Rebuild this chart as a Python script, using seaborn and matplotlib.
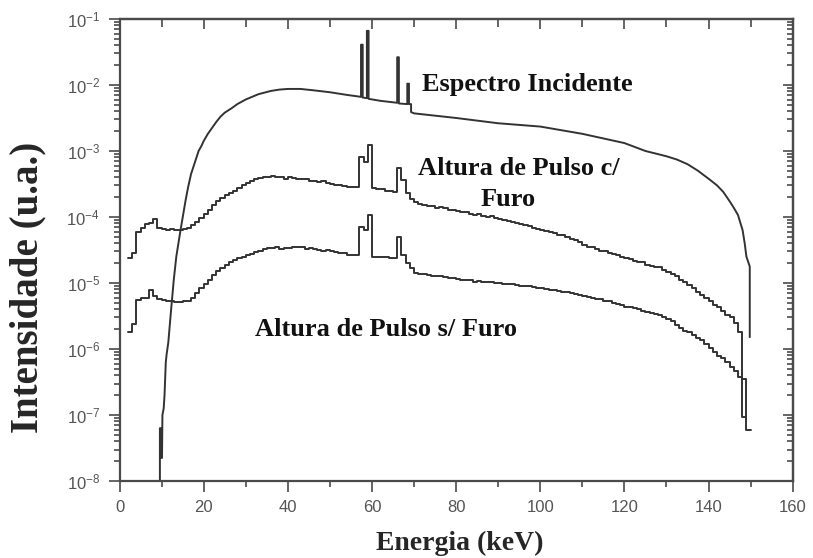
import numpy as np
import matplotlib
matplotlib.use("Agg")
import matplotlib.pyplot as plt
import seaborn as sns
from matplotlib.ticker import MultipleLocator, LogLocator, NullFormatter

# espectro incidente (keV, log10 da intensidade)
inc_e = [9.6, 9.6, 9.9, 9.9, 10.1, 10.2, 10.5, 10.7, 11.0, 11.2, 11.6, 12.2, 12.9,
         13.5, 14.5, 15.7, 16.3, 17.0, 18.8, 19.5, 20.0, 21.0, 22.0, 23.0, 24.0,
         25.0, 26.7, 28.0, 30.0, 31.5, 33.0, 36.0, 38.0,
         40.0, 43.0, 46.0, 50.0, 54.0, 57.4, 57.4, 57.8, 57.8, 58.8, 58.8, 59.2,
         59.2, 62.0, 66.0, 66.0, 66.4, 66.4, 68.4, 68.4, 68.8, 68.8, 69.3, 69.3,
         70.0, 80.0, 90.0, 100.0, 110.0, 120.0, 125.0, 127.5, 130.0, 132.5, 135.0,
         137.5, 140.0, 142.0, 143.5, 145.0, 146.0, 147.0, 148.1, 148.6, 149.0,
         149.8, 149.8]
inc_log = [-8.6, -7.2, -7.2, -7.65, -7.65, -7.0, -6.9, -6.7, -6.2, -6.08, -5.9,
           -5.45, -4.95, -4.6, -4.2, -3.75, -3.55, -3.35, -3.0, -2.92, -2.85, -2.74,
           -2.65, -2.56, -2.48, -2.42, -2.35, -2.29, -2.22, -2.18, -2.14, -2.09, -2.07,
           -2.06, -2.06, -2.08, -2.11, -2.15, -2.18, -1.39, -1.39,
           -2.19, -2.20, -1.18, -1.18, -2.21, -2.24, -2.27, -1.58, -1.58, -2.28, -2.29,
           -1.98, -1.98, -2.29, -2.29, -2.41, -2.43, -2.50, -2.58, -2.63, -2.74, -2.88,
           -3.0, -3.04, -3.08, -3.13, -3.2, -3.3, -3.42, -3.52, -3.62, -3.76, -3.86,
           -3.97, -4.2, -4.4, -4.6, -4.75, -5.82]

# altura de pulso com furo (bins de 1 keV a partir de 2 keV)
furo_c_log = [
    -4.62, -4.55, -4.23, -4.17, -4.10, -4.09, -4.03, -4.16, -4.18, -4.19,
    -4.18, -4.20, -4.19, -4.18, -4.17, -4.12, -4.07, -4.02, -3.95, -3.89,
    -3.82, -3.76, -3.71, -3.67, -3.64, -3.60, -3.56, -3.52, -3.48, -3.45,
    -3.43, -3.41, -3.40, -3.39, -3.38, -3.40, -3.39, -3.42, -3.40, -3.41,
    -3.42, -3.43, -3.42, -3.45, -3.46, -3.47, -3.46, -3.49, -3.50, -3.51,
    -3.52, -3.53, -3.54, -3.55, -3.55, -3.09, -3.17, -2.91, -3.56, -3.57,
    -3.58, -3.60, -3.61, -3.62, -3.26, -3.44, -3.64, -3.72,
    -3.77, -3.80, -3.82, -3.83, -3.84, -3.86, -3.85, -3.87, -3.89, -3.90,
    -3.91, -3.93, -3.92, -3.95, -3.97, -3.96, -3.98, -4.00, -3.99, -4.02,
    -4.03, -4.05, -4.06, -4.08, -4.09, -4.11, -4.12, -4.14, -4.16, -4.18,
    -4.20, -4.21, -4.23, -4.25, -4.27, -4.28, -4.31, -4.33, -4.35, -4.38,
    -4.42, -4.45, -4.46, -4.49, -4.51, -4.52, -4.55, -4.56, -4.58, -4.60,
    -4.62, -4.63, -4.66, -4.68, -4.68, -4.72, -4.74, -4.76, -4.76, -4.80,
    -4.84, -4.86, -4.90, -4.95, -4.99, -5.03, -5.07, -5.13, -5.18, -5.23,
    -5.28, -5.33, -5.36, -5.42, -5.48, -5.52, -5.60, -5.75, -7.03]

# altura de pulso sem furo
furo_s_log = [
    -5.74, -5.62, -5.26, -5.23, -5.22, -5.11, -5.20, -5.24, -5.26, -5.27,
    -5.28, -5.29, -5.29, -5.28, -5.27, -5.22, -5.15, -5.08, -5.01, -4.95,
    -4.88, -4.82, -4.77, -4.72, -4.68, -4.65, -4.62, -4.60, -4.58, -4.56,
    -4.53, -4.51, -4.49, -4.47, -4.47, -4.46, -4.48, -4.47, -4.47, -4.46,
    -4.45, -4.46, -4.48, -4.47, -4.49, -4.50, -4.51, -4.50, -4.52, -4.53,
    -4.54, -4.55, -4.57, -4.58, -4.58, -4.15, -4.20, -3.97, -4.60, -4.60,
    -4.61, -4.61, -4.62, -4.62, -4.30, -4.58, -4.70, -4.78,
    -4.85, -4.86, -4.87, -4.88, -4.89, -4.90, -4.90, -4.91, -4.92, -4.93,
    -4.94, -4.95, -4.96, -4.96, -4.98, -4.97, -4.98, -4.99, -4.98, -5.00,
    -5.00, -5.01, -5.02, -5.02, -5.03, -5.04, -5.05, -5.05, -5.06, -5.07,
    -5.08, -5.09, -5.10, -5.11, -5.12, -5.13, -5.14, -5.15, -5.17, -5.18,
    -5.19, -5.21, -5.22, -5.24, -5.25, -5.27, -5.28, -5.30, -5.32, -5.34,
    -5.36, -5.37, -5.38, -5.40, -5.42, -5.44, -5.45, -5.47, -5.48, -5.51,
    -5.55, -5.58, -5.63, -5.68, -5.72, -5.75, -5.79, -5.83, -5.86, -5.92,
    -5.98, -6.04, -6.10, -6.14, -6.20, -6.27, -6.33, -6.42, -6.45, -7.23]

sns.set_style("ticks")
plt.rcParams['font.family'] = ['Liberation Sans', 'DejaVu Sans']

fig = plt.figure(figsize=(8.13, 5.58), dpi=100)
ax = fig.add_axes([0.147, 0.138, 0.828, 0.828])

cor = '#333333'
eixo = '#4a4a4a'

def degraus(vals):
    # bordas dos bins de 1 keV, repetindo o último valor para fechar o degrau
    e = list(np.arange(2, 2 + len(vals) + 1))
    v = [10 ** x for x in vals] + [10 ** vals[-1]]
    return e, v

sns.lineplot(x=inc_e, y=[10 ** v for v in inc_log], ax=ax, color=cor,
             linewidth=1.4, sort=False, estimator=None)
e_c, v_c = degraus(furo_c_log)
sns.lineplot(x=e_c, y=v_c, ax=ax, color=cor, linewidth=1.4, sort=False,
             estimator=None, drawstyle='steps-post')
e_s, v_s = degraus(furo_s_log)
sns.lineplot(x=e_s, y=v_s, ax=ax, color=cor, linewidth=1.4, sort=False,
             estimator=None, drawstyle='steps-post')

ax.set_yscale('log')
ax.set_xlim(0, 160)
ax.set_ylim(1e-8, 1e-1)

ax.xaxis.set_major_locator(MultipleLocator(20))
ax.xaxis.set_minor_locator(MultipleLocator(10))
ax.yaxis.set_major_locator(LogLocator(base=10, numticks=10))
ax.yaxis.set_minor_locator(LogLocator(base=10, subs=np.arange(2, 10), numticks=10))
ax.yaxis.set_minor_formatter(NullFormatter())
ax.tick_params(which='both', direction='out', color=eixo, labelcolor='#555555',
               labelsize=12, width=1.2, pad=6)
ax.tick_params(which='major', length=8)
ax.tick_params(which='minor', length=4)

# eixos de cima e da direita com ticks para dentro
topo = ax.secondary_xaxis('top')
topo.xaxis.set_major_locator(MultipleLocator(20))
topo.xaxis.set_minor_locator(MultipleLocator(10))
topo.tick_params(which='both', direction='in', labeltop=False, color=eixo, width=1.2)
topo.tick_params(which='major', length=7)
topo.tick_params(which='minor', length=6)
direita = ax.secondary_yaxis('right')
direita.yaxis.set_major_locator(LogLocator(base=10, numticks=10))
direita.yaxis.set_minor_locator(LogLocator(base=10, subs=np.arange(2, 10), numticks=10))
direita.tick_params(which='both', direction='in', labelright=False, color=eixo, width=1.2)
direita.tick_params(which='major', length=7)
direita.tick_params(which='minor', length=4)

for a in (ax, topo, direita):
    for s in a.spines.values():
        s.set_color(eixo)
        s.set_linewidth(1.6)

serif = ['Liberation Serif', 'DejaVu Serif']
ax.set_xlabel('Energia (keV)', fontsize=20, fontweight='bold', family=serif)
ax.xaxis.set_label_coords(0.505, -0.107)
ax.set_ylabel('Intensidade (u.a.)', fontsize=28, fontweight='bold', family=serif)
ax.yaxis.set_label_coords(-0.108, 0.418)

ax.text(72, 1.0e-2, 'Espectro Incidente', fontsize=19, fontweight='bold',
        family=serif, ha='left', va='center', color='#111111')
ax.text(95.0, 10 ** -3.258, 'Altura de Pulso c/', fontsize=19, fontweight='bold',
        family=serif, ha='center', va='center', color='#111111')
ax.text(92.4, 10 ** -3.742, 'Furo', fontsize=19, fontweight='bold',
        family=serif, ha='center', va='center', color='#111111')
ax.text(63.3, 10 ** -5.71, 'Altura de Pulso s/ Furo', fontsize=19,
        fontweight='bold', family=serif, ha='center', va='center', color='#111111')

fig.savefig('out.png', dpi=100)
